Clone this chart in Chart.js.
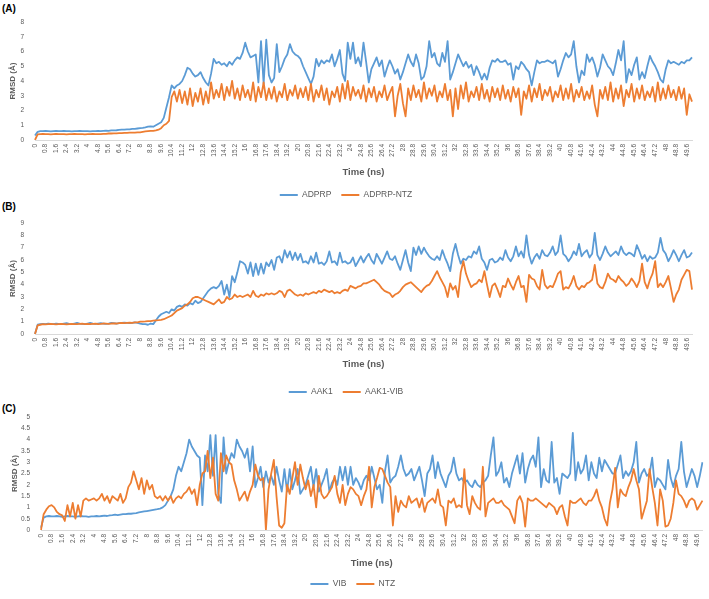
<!DOCTYPE html>
<html>
<head>
<meta charset="utf-8">
<script src="https://cdn.jsdelivr.net/npm/chart.js@4.4.0/dist/chart.umd.min.js"></script>
<style>
  html, body { margin: 0; padding: 0; background: #fff; }
  body { width: 709px; height: 599px; position: relative; overflow: hidden; }
  canvas { position: absolute; left: 0; }
  .tag { position: absolute; left: 2px; font: bold 10px "Liberation Sans", Arial, sans-serif; color: #000; }
</style>
</head>
<body>
<div class="tag" style="top:3px">(A)</div>
<div class="tag" style="top:201px">(B)</div>
<div class="tag" style="top:403px">(C)</div>
<canvas id="chartA" width="709" height="212" style="top:0px"></canvas>
<canvas id="chartB" width="709" height="206" style="top:200px"></canvas>
<canvas id="chartC" width="709" height="199" style="top:400px"></canvas>
<script>
// time axis, one sample every 0.2 ns, a label every 0.8 ns
const timeNs = Array.from({ length: 251 }, (_, i) => +(i * 0.2).toFixed(1));
const tickEvery = 4;

// (A)
const adprp = [
  0.3, 0.55, 0.6, 0.6, 0.62, 0.6, 0.58, 0.6, 0.62, 0.6,
  0.6, 0.62, 0.6, 0.6, 0.58, 0.6, 0.6, 0.62, 0.6, 0.6,
  0.6, 0.58, 0.6, 0.6, 0.62, 0.6, 0.62, 0.64, 0.62, 0.65,
  0.65, 0.66, 0.68, 0.7, 0.7, 0.72, 0.72, 0.75, 0.75, 0.78,
  0.8, 0.82, 0.85, 0.9, 0.92, 0.9, 1.0, 1.1, 1.2, 1.5,
  2.2, 2.9, 3.7, 3.5, 3.7, 3.8, 4.0, 4.4, 4.9, 4.8,
  4.5, 4.3, 4.4, 4.6, 4.2, 3.9, 3.7, 4.5, 5.5, 5.2,
  5.3, 5.1, 5.2, 5.0, 5.3, 5.1, 5.4, 5.6, 5.5, 5.9,
  6.6, 6.0, 5.6, 5.7, 5.8, 3.9, 6.7, 3.8, 6.8, 4.4,
  3.9, 4.2, 6.5, 4.6, 5.0, 5.5, 5.8, 6.5, 6.0, 5.8,
  5.7, 5.5, 5.0, 4.6, 4.2, 3.8, 4.3, 5.5, 5.0, 5.4,
  5.2, 5.4, 5.3, 5.8, 5.0, 5.5, 6.1, 4.5, 4.0, 6.6,
  5.5, 6.6, 5.2, 5.6, 5.0, 6.6, 5.3, 3.9, 4.8, 5.2,
  5.6, 5.0, 5.4, 4.3, 4.9, 5.4, 5.0, 4.5, 4.8, 4.1,
  4.6, 5.2, 5.8, 5.3, 5.0, 5.8, 5.2, 4.1, 4.3, 5.0,
  6.7, 5.6, 5.9, 5.2, 5.0, 5.9, 5.3, 6.7, 4.1, 4.6,
  5.2, 5.8, 5.4, 5.0, 5.3, 4.9, 5.1, 4.4, 5.0, 4.6,
  4.1, 4.5, 4.1, 4.9, 5.4, 5.3, 5.5, 5.3, 5.3, 5.4,
  5.1, 5.2, 4.1, 5.0, 4.8, 5.3, 5.1, 4.8, 4.6, 3.7,
  4.6, 5.4, 5.2, 5.3, 5.3, 5.4, 5.3, 5.2, 5.4, 4.3,
  4.8, 5.4, 5.9, 5.6, 5.8, 6.7, 5.0, 3.9, 4.7, 4.4,
  5.8, 5.3, 5.6, 5.1, 4.3, 4.9, 5.8, 5.4, 5.0, 4.8,
  4.4, 5.2, 6.1, 5.4, 6.7, 3.9, 4.8, 4.4, 5.1, 5.6,
  4.1, 4.6, 4.2, 5.0, 5.7, 5.3, 5.0, 4.6, 4.1, 3.9,
  4.8, 5.4, 5.2, 5.3, 5.2, 5.1, 5.3, 5.2, 5.4, 5.4,
  5.6
];
const adprpNtz = [
  0.0, 0.38, 0.4, 0.42, 0.4, 0.4, 0.38, 0.4, 0.42, 0.4,
  0.4, 0.4, 0.38, 0.4, 0.4, 0.42, 0.4, 0.4, 0.4, 0.38,
  0.4, 0.4, 0.42, 0.4, 0.4, 0.4, 0.42, 0.42, 0.44, 0.44,
  0.45, 0.45, 0.46, 0.46, 0.48, 0.48, 0.5, 0.5, 0.5, 0.52,
  0.52, 0.55, 0.58, 0.6, 0.62, 0.62, 0.65, 0.7, 0.8, 1.0,
  1.1, 1.3, 2.9, 3.3, 2.6, 3.4, 2.5, 3.3, 2.4, 3.5,
  2.3, 3.2, 2.6, 3.5, 2.4, 3.3, 2.5, 3.9, 2.8, 3.4,
  2.9, 3.8, 2.7, 3.6, 3.0, 4.0, 2.8, 3.5, 2.7, 3.7,
  2.9, 3.4, 2.7, 3.9, 2.6, 3.6, 2.9, 3.9, 2.7, 3.5,
  2.8, 3.6, 2.6, 3.3, 2.9, 3.8, 2.7, 3.4, 3.0, 3.7,
  2.8, 3.5, 2.9, 3.6, 2.7, 3.8, 2.6, 3.4, 2.9, 3.7,
  2.7, 3.5, 2.4, 3.3, 2.9, 3.6, 2.6, 3.8, 2.8, 4.0,
  2.7, 3.6, 3.0, 3.4, 2.8, 3.7, 2.6, 3.5, 2.9, 3.6,
  2.6, 3.3, 2.9, 3.7, 2.7, 3.2, 3.6, 1.6, 3.0, 3.8,
  2.5, 1.6, 3.5, 2.7, 3.7, 2.9, 3.4, 2.6, 3.9, 2.8,
  3.5, 3.0, 3.7, 2.6, 3.3, 2.9, 3.8, 2.7, 3.4, 1.6,
  3.5, 2.1, 3.7, 2.8, 3.9, 2.6, 3.3, 2.9, 3.6, 2.7,
  3.8, 2.8, 3.4, 2.6, 3.6, 2.9, 3.5, 2.7, 3.7, 2.8,
  3.4, 2.6, 3.6, 2.9, 3.5, 1.7, 3.3, 2.8, 3.7, 2.6,
  3.5, 2.9, 3.8, 2.7, 3.4, 3.0, 3.6, 2.6, 3.3, 2.9,
  3.7, 2.7, 3.5, 2.8, 3.8, 2.6, 3.4, 2.9, 3.6, 2.7,
  3.3, 2.8, 3.7, 2.4, 1.6, 3.4, 2.8, 3.6, 2.7, 3.9,
  2.6, 3.5, 2.8, 3.7, 2.3, 3.4, 2.9, 3.8, 2.6, 3.5,
  2.8, 3.7, 2.7, 3.3, 2.9, 3.6, 2.6, 3.9, 2.7, 3.5,
  2.8, 3.7, 2.9, 3.4, 2.7, 3.6, 2.8, 3.5, 1.7, 3.1,
  2.6
];

// (B)
const aak1 = [
  0.0, 0.75, 0.8, 0.82, 0.8, 0.85, 0.82, 0.8, 0.85, 0.82,
  0.8, 0.85, 0.88, 0.82, 0.8, 0.85, 0.9, 0.85, 0.82, 0.8,
  0.85, 0.9, 0.85, 0.82, 0.85, 0.88, 0.85, 0.82, 0.85, 0.9,
  0.88, 0.85, 0.88, 0.9, 0.92, 0.9, 0.88, 0.9, 0.95, 0.9,
  0.85, 0.8, 0.8, 0.75, 0.85, 0.8, 1.1, 1.4, 1.6, 1.7,
  1.8, 1.7, 2.0, 1.9, 2.2, 2.3, 2.2, 2.4, 2.3, 2.5,
  2.4, 2.7, 2.5, 2.6, 2.9, 3.2, 3.5, 3.7, 3.8, 3.7,
  3.9, 4.3, 3.2, 4.0, 3.0, 4.7, 4.2, 5.0, 5.9, 5.8,
  5.6, 4.9, 5.8, 4.7, 5.7, 4.8, 5.7, 4.9, 5.8, 5.5,
  6.0, 5.2, 6.2, 6.3, 5.8, 6.8, 6.2, 6.7, 6.0, 6.6,
  6.0, 6.5, 5.8, 5.9, 5.7, 6.3, 5.8, 6.6, 5.7, 5.8,
  5.6, 5.9, 6.7, 5.8, 5.9, 5.6, 6.6, 5.8, 5.9, 5.7,
  5.8, 6.2, 5.5, 5.9, 6.3, 5.8, 6.2, 6.5, 6.0, 5.7,
  6.5, 6.1, 5.7, 6.2, 6.7, 6.1, 6.0, 6.3, 5.7, 5.2,
  6.0, 6.8, 5.8, 5.1, 7.0, 6.4, 7.1, 6.5, 7.0, 6.6,
  6.3, 6.1, 6.0, 6.3, 6.0, 6.8, 6.2, 5.7, 5.1, 6.5,
  7.3, 6.4, 5.7, 6.1, 6.0, 6.3, 6.2, 6.7, 6.5, 7.1,
  6.1, 5.8, 5.2, 6.0, 6.1, 5.8, 5.9, 6.2, 6.0, 6.8,
  6.2, 5.9, 6.3, 7.1, 6.3, 6.7, 6.2, 8.0, 6.4, 5.7,
  6.2, 6.5, 6.1, 6.8, 6.4, 6.3, 6.6, 7.1, 6.4, 6.7,
  8.0, 6.5, 6.3, 5.9, 6.2, 6.7, 6.4, 7.3, 6.3, 6.6,
  6.8, 6.2, 6.5, 8.2, 6.4, 6.0, 6.5, 7.1, 6.6, 6.3,
  6.5, 6.7, 6.4, 7.1, 6.6, 6.4, 6.6, 6.5, 6.3, 7.2,
  6.7, 6.1, 6.4, 5.9, 6.3, 6.1, 6.2, 6.6, 7.8, 6.8,
  6.5, 5.9, 6.3, 6.8, 6.4, 5.9, 6.4, 6.8, 6.2, 6.3,
  6.6
];
const aak1Vib = [
  0.0, 0.7, 0.75, 0.8, 0.78, 0.8, 0.82, 0.8, 0.78, 0.8,
  0.82, 0.8, 0.78, 0.8, 0.82, 0.8, 0.8, 0.82, 0.84, 0.8,
  0.82, 0.8, 0.82, 0.84, 0.8, 0.82, 0.85, 0.84, 0.82, 0.85,
  0.86, 0.85, 0.88, 0.9, 0.88, 0.9, 0.92, 0.9, 0.95, 0.95,
  1.0, 1.0, 1.02, 1.05, 1.05, 1.08, 1.1, 1.12, 1.15, 1.2,
  1.3, 1.4, 1.5, 1.7, 1.9, 2.0, 2.1, 2.3, 2.4, 2.6,
  2.9, 3.0, 3.0, 2.9, 2.8, 2.7, 2.6, 2.5, 2.4, 2.6,
  2.8, 2.5, 2.6, 3.0, 2.8, 2.9, 3.2, 3.0, 3.1, 3.0,
  3.1, 3.2, 3.0, 3.5, 3.1, 3.0, 3.2, 3.1, 3.3, 3.2,
  3.3, 3.2, 3.3, 3.5, 3.4, 3.0, 3.5, 3.6, 3.4, 3.2,
  3.1, 3.2, 3.1, 3.3, 3.2, 3.3, 3.4, 3.3, 3.5, 3.4,
  3.6, 3.5, 3.4, 3.5, 3.3, 3.4, 3.3, 3.5, 3.6, 3.5,
  3.9, 3.8, 3.7, 3.85, 3.9, 4.1, 4.1, 4.2, 4.3, 4.4,
  4.2, 4.0, 3.7, 3.5, 3.4, 3.3, 3.0, 3.2, 3.3, 3.5,
  3.8, 4.0, 4.1, 4.2, 4.0, 3.8, 3.6, 3.4, 3.7, 3.9,
  4.0, 4.3, 4.7, 5.1, 4.6, 4.2, 3.8, 3.0, 4.1, 3.6,
  3.9, 3.0, 5.0, 5.9, 4.9, 4.3, 3.8, 4.0, 4.1, 4.4,
  4.2, 5.1, 4.0, 3.0, 3.9, 4.1, 3.6, 3.0, 3.9, 3.8,
  4.5, 4.0, 3.6, 4.2, 4.7, 3.8, 3.9, 2.6, 4.8, 4.5,
  4.4, 3.9, 3.6, 5.2, 4.0, 3.7, 3.9, 3.8, 4.3, 4.9,
  5.1, 3.6, 3.8, 3.7, 4.1, 4.7, 3.9, 3.6, 3.9, 3.8,
  4.1, 4.2, 4.4, 5.6, 4.1, 3.8, 3.7, 4.2, 4.9, 4.5,
  4.4, 4.2, 4.7, 4.4, 4.2, 3.9, 4.1, 4.5, 4.2, 3.8,
  4.3, 5.7, 4.2, 3.7, 4.4, 4.9, 5.9, 3.8, 4.1, 3.8,
  4.2, 4.7, 3.7, 2.6, 3.2, 3.6, 4.4, 4.8, 5.2, 5.1,
  3.6
];

// (C)
const vib = [
  0.1, 0.55, 0.6, 0.62, 0.6, 0.6, 0.62, 0.6, 0.58, 0.6,
  0.62, 0.6, 0.6, 0.58, 0.6, 0.62, 0.6, 0.6, 0.58, 0.6,
  0.6, 0.62, 0.6, 0.62, 0.64, 0.62, 0.65, 0.66, 0.68, 0.66,
  0.68, 0.7, 0.7, 0.72, 0.72, 0.74, 0.75, 0.78, 0.8, 0.82,
  0.84, 0.86, 0.88, 0.9, 0.92, 0.95, 1.0, 1.1, 1.3, 1.5,
  1.8, 2.4, 2.8, 2.6, 3.0, 3.4, 4.0, 3.7, 3.5, 3.3,
  3.2, 1.1, 3.3, 2.6, 4.2, 2.4, 4.2, 1.6, 1.2, 4.1,
  2.5, 3.0, 3.4, 3.2, 4.0, 3.7, 3.5, 3.2, 3.6, 2.6,
  3.7, 1.9, 2.3, 2.8, 1.9, 2.6, 2.1, 2.4, 2.0, 2.8,
  2.2, 1.7, 2.7, 1.7, 2.7, 1.8, 2.2, 2.7, 1.6, 1.8,
  2.0, 2.4, 2.8, 1.9, 2.7, 1.7, 2.0, 2.3, 2.7, 1.7,
  2.1, 2.3, 2.0, 2.8, 2.2, 2.8, 2.0, 2.8, 2.0, 2.3,
  2.1, 1.8, 2.2, 2.4, 2.2, 2.8, 2.3, 1.8, 2.0, 1.2,
  2.6, 3.3, 2.1, 2.3, 2.4, 2.8, 3.3, 2.7, 2.4, 2.5,
  2.7, 2.2, 2.5, 2.8, 2.2, 1.5, 2.5, 2.7, 3.3, 2.3,
  3.0, 2.5, 2.2, 1.9, 2.4, 2.6, 3.2, 2.5, 2.2, 2.3,
  2.1, 2.2, 2.0, 1.9, 2.2, 2.0, 1.9, 2.1, 2.2, 2.4,
  3.3, 4.1, 2.4, 2.6, 3.0, 2.1, 2.3, 1.9, 2.5, 2.9,
  3.3, 2.5, 3.4, 2.1, 2.7, 3.1, 3.3, 2.8, 4.1, 1.9,
  2.7, 2.2, 2.1, 3.9, 2.1, 2.3, 1.6, 2.5, 2.4, 2.3,
  2.5, 4.3, 2.2, 3.0, 2.5, 2.7, 3.3, 2.2, 3.0, 2.5,
  2.3, 3.2, 2.6, 3.1, 2.9, 2.7, 2.5, 2.5, 2.9, 3.3,
  2.3, 2.6, 2.4, 2.6, 3.0, 3.9, 2.1, 2.5, 2.7, 2.4,
  2.5, 3.2, 1.9, 2.3, 2.2, 2.0, 1.8, 3.1, 2.3, 1.9,
  2.4, 2.7, 3.9, 2.6, 1.9, 2.3, 2.7, 2.4, 1.9, 2.4,
  3.0
];
const ntz = [
  0.0, 0.7, 0.9, 1.05, 1.1, 1.0, 0.8, 0.7, 0.65, 0.4,
  1.1, 0.6, 1.2, 0.5, 1.1, 0.6, 1.3, 1.4, 1.3, 1.35,
  1.4, 1.3, 1.4, 1.6, 1.3, 1.5, 1.2, 1.5, 1.4, 1.3,
  1.6, 1.2, 1.4, 1.9, 2.1, 2.6, 2.2, 1.8, 2.3, 1.6,
  2.2, 1.8, 2.0, 1.5, 1.4, 1.5, 1.3, 1.5, 1.3, 1.5,
  1.2, 1.4, 1.5, 1.4, 1.6, 1.7, 1.9, 1.6, 1.8, 1.1,
  2.0, 2.5, 2.6, 3.5, 2.3, 3.2, 1.6, 1.3, 3.4, 2.6,
  3.3, 3.0, 2.9, 2.2, 1.8, 1.3, 1.5, 1.7, 1.3, 1.7,
  2.0, 2.9, 2.4, 2.2, 2.3, 0.0, 1.8, 2.5, 3.1, 1.5,
  0.2, 0.1, 0.3, 2.0, 1.6, 2.3, 3.0, 2.0, 2.9, 2.3,
  1.8, 2.2, 1.5, 2.0, 1.0, 2.4, 1.6, 1.4, 1.5, 1.7,
  1.9, 2.4, 1.6, 1.2, 2.0, 1.1, 1.6, 1.9, 1.8, 1.6,
  1.5, 1.1, 1.5, 1.8, 2.8, 1.0, 1.9, 2.3, 2.75, 2.7,
  2.4, 2.1, 1.9, 0.2, 1.5, 0.8, 1.3, 1.1, 1.0, 1.5,
  1.2, 1.3, 1.4, 1.0, 1.4, 0.8, 1.2, 1.3, 1.4, 1.2,
  1.8, 1.1, 1.0, 0.2, 1.3, 1.2, 1.4, 1.0, 1.1, 1.0,
  2.7, 1.1, 0.7, 1.5, 1.2, 1.0, 0.9, 2.8, 0.6, 1.2,
  1.3, 1.4, 1.2, 1.2, 1.3, 1.1, 1.0, 0.9, 0.6, 0.3,
  1.3, 1.5, 1.2, 0.15, 1.4, 1.3, 1.3, 1.4, 1.3, 1.2,
  1.1, 1.0, 1.2, 1.1, 1.0, 0.7, 1.0, 1.1, 0.6, 0.2,
  1.3, 1.2, 1.2, 1.3, 1.4, 1.2, 1.1, 1.3, 1.3, 1.5,
  1.8, 1.3, 1.0, 0.5, 0.2, 1.2, 1.8, 2.75, 1.0, 1.8,
  1.6, 1.5, 1.9, 2.2, 2.7, 2.2, 1.8, 0.5, 0.9, 1.3,
  2.7, 1.9, 1.2, 0.2, 1.8, 1.3, 0.15, 0.2, 0.5, 1.2,
  2.2, 1.6, 1.5, 1.3, 1.0, 1.3, 1.4, 1.3, 0.9, 1.1,
  1.3
];

const BLUE = '#5b9bd5';
const ORANGE = '#ed7d31';
const TEXT = '#595959';
const FONT = '"Liberation Sans", Arial, sans-serif';

function makePanel(canvasId, p) {
  const fit = { yw: p.area.left, xh: 40 };
  const pad = { left: 0, right: 709 - p.area.right, top: p.area.top - 4, bottom: 0 };

  const chart = new Chart(document.getElementById(canvasId), {
    type: 'line',
    data: {
      labels: timeNs,
      datasets: [
        { label: p.names[0], data: p.series[0], borderColor: BLUE, backgroundColor: BLUE,
          borderWidth: 1.8, pointRadius: 0, borderJoinStyle: 'round', order: 1 },
        { label: p.names[1], data: p.series[1], borderColor: ORANGE, backgroundColor: ORANGE,
          borderWidth: 1.8, pointRadius: 0, borderJoinStyle: 'round', order: 0 }
      ]
    },
    options: {
      responsive: false,
      animation: false,
      layout: { padding: pad },
      plugins: {
        tooltip: { enabled: false },
        legend: {
          position: 'bottom',
          labels: {
            usePointStyle: true,
            pointStyle: 'line',
            pointStyleWidth: 18,
            padding: 10,
            color: TEXT,
            font: { family: FONT, size: 8.5 },
            sort: (a, b) => a.datasetIndex - b.datasetIndex
          }
        }
      },
      scales: {
        x: {
          grid: { display: false, drawTicks: false },
          border: { display: true, color: '#d9d9d9', width: 1 },
          ticks: {
            autoSkip: false,
            minRotation: 90,
            maxRotation: 90,
            padding: 4,
            color: TEXT,
            font: { family: FONT, size: 6.5 },
            callback: (v, i) => (i % tickEvery === 0 ? String(timeNs[i]) : null)
          },
          title: {
            display: true,
            text: 'Time (ns)',
            color: TEXT,
            font: { family: FONT, size: 9.5, weight: 'bold', lineHeight: 1 },
            padding: { top: 0, bottom: 4 }
          },
          afterFit: s => { s.height = fit.xh; }
        },
        y: {
          min: 0,
          max: p.yMax,
          grid: { display: false, drawTicks: false },
          border: { display: false },
          ticks: {
            stepSize: p.yStep,
            padding: 11,
            color: TEXT,
            font: { family: FONT, size: 6.5 },
            callback: v => String(+v.toFixed(1))
          },
          title: {
            display: true,
            text: 'RMSD (Å)',
            color: TEXT,
            font: { family: FONT, size: 8, weight: 'bold', lineHeight: 1 },
            padding: { top: p.yTitleX - 4, bottom: 0 }
          },
          afterFit: s => { s.width = fit.yw; }
        }
      }
    }
  });

  // put the legend row where it sits in the figure
  const hb = chart.legend.legendHitBoxes[0];
  pad.bottom += (hb.top + hb.height / 2) - p.legendY;
  chart.update('none');

  // then pin the plot box
  const a = chart.chartArea;
  fit.yw += p.area.left - a.left;
  fit.xh += a.bottom - p.area.bottom;
  pad.top += p.area.top - a.top;
  pad.right += a.right - p.area.right;
  chart.update('none');

  // the axis title hangs at the bottom of the x box
  const xs = chart.scales.x;
  chart.config.options.scales.x.title.padding = { top: 0, bottom: xs.bottom - p.titleY - 9.5 / 2 };
  chart.update('none');
  return chart;
}

makePanel('chartA', {
  series: [adprp, adprpNtz], names: ['ADPRP', 'ADPRP-NTZ'],
  yMax: 8, yStep: 1,
  area: { left: 35, right: 692, top: 22, bottom: 140 },
  titleY: 172, legendY: 195, yTitleX: 13
});
makePanel('chartB', {
  series: [aak1, aak1Vib], names: ['AAK1', 'AAK1-VIB'],
  yMax: 9, yStep: 1,
  area: { left: 35, right: 692, top: 23, bottom: 134 },
  titleY: 164, legendY: 192, yTitleX: 13
});
makePanel('chartC', {
  series: [vib, ntz], names: ['VIB', 'NTZ'],
  yMax: 5, yStep: 0.5,
  area: { left: 41, right: 704, top: 18, bottom: 130 },
  titleY: 163, legendY: 184, yTitleX: 15
});
</script>
</body>
</html>
